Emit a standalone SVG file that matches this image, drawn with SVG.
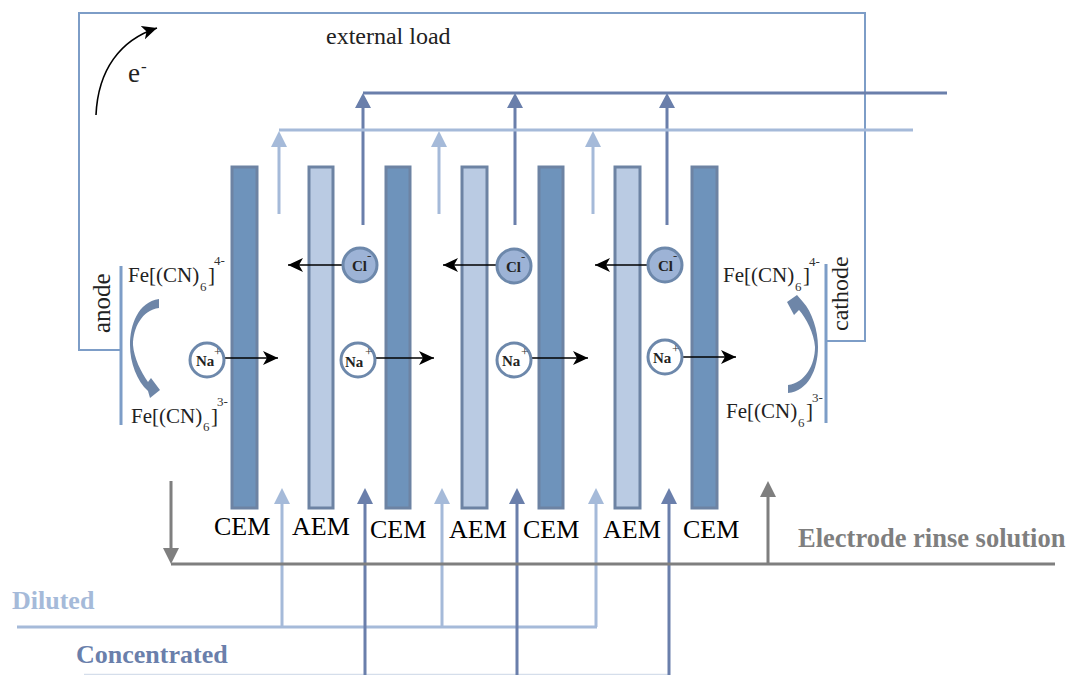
<svg xmlns="http://www.w3.org/2000/svg" width="1069" height="675" viewBox="0 0 1069 675">
<style>
text{font-family:"Liberation Serif","Times New Roman",serif;fill:#000}
.cem{fill:#6e93bb;stroke:#6d83a3;stroke-width:3}
.aem{fill:#bacbe3;stroke:#6d83a3;stroke-width:3}
.l{font-size:26px}
.f{font-size:21px;fill:#222}
.s{font-size:13px;fill:#333}
.ion{font-size:15px;font-weight:bold;fill:#222}
.na{fill:#fff;stroke:#6d88ab;stroke-width:3}
.cl{fill:#9db3d6;stroke:#6d88ab;stroke-width:3}
.wire{fill:none;stroke:#7d9dc7;stroke-width:2}
.dil{fill:none;stroke:#a5bad9;stroke-width:3}
.con{fill:none;stroke:#6a7fab;stroke-width:3}
.gr{fill:none;stroke:#7f7f7f;stroke-width:3}
.blk{fill:none;stroke:#000;stroke-width:1.6}
</style>
<defs>
<marker id="ab" markerUnits="userSpaceOnUse" markerWidth="18" markerHeight="14" refX="15" refY="7" orient="auto"><path d="M0 0L15 7L0 14L4 7Z" fill="#000"/></marker>
</defs>
<g id="connectors">
<path class="wire" d="M121 350H79V13H865V341H826"/>
<path class="blk" d="M96 115C98 70 120 40 157 28" marker-end="url(#ab)"/>
<path class="con" d="M363 93H947"/>
<path class="con" d="M363 225V100M515 225V100M667 225V100"/>
<path d="M363 93l-8 15h16zM515 93l-8 15h16zM667 93l-8 15h16z" fill="#6a7fab"/>
<path class="dil" d="M279 130H913"/>
<path class="dil" d="M279 214V135M439 214V135M593 214V135"/>
<path d="M279 131l-8 16h16zM439 131l-8 16h16zM593 131l-8 16h16z" fill="#a5bad9"/>
<path class="dil" d="M17 627H597"/>
<path class="dil" d="M282 627V500M442 627V500M596 627V500"/>
<path d="M282 488l-8 16h16zM442 488l-8 16h16zM596 488l-8 16h16z" fill="#a5bad9"/>
<path d="M84 674.500H669" fill="none" stroke="#d5deeb" stroke-width="1.500"/>
<path class="con" d="M365 675V500M517 675V500M669 675V500"/>
<path d="M365 488l-8 16h16zM517 488l-8 16h16zM669 488l-8 16h16z" fill="#6a7fab"/>
<path class="gr" d="M171 564H1055M171 481V552M768 564V495"/>
<path d="M171 564l-8 -16h16zM768 481l-8 16h16z" fill="#7f7f7f"/>
<path d="M121 266V425M826 264V423" fill="none" stroke="#7d9dc7" stroke-width="3"/>
</g>
<g id="cem1"><rect class="cem" x="232" y="167" width="25" height="341"/><text class="l" x="214" y="535">CEM</text></g>
<g id="aem1"><rect class="aem" x="309" y="167" width="24" height="341"/><text class="l" x="292" y="535">AEM</text></g>
<g id="cem2"><rect class="cem" x="386" y="167" width="24" height="341"/><text class="l" x="370" y="538">CEM</text></g>
<g id="aem2"><rect class="aem" x="462" y="167" width="25" height="341"/><text class="l" x="449" y="538">AEM</text></g>
<g id="cem3"><rect class="cem" x="539" y="167" width="24" height="341"/><text class="l" x="523" y="538">CEM</text></g>
<g id="aem3"><rect class="aem" x="615" y="167" width="25" height="341"/><text class="l" x="603" y="538">AEM</text></g>
<g id="cem4"><rect class="cem" x="692" y="167" width="25" height="341"/><text class="l" x="683" y="538">CEM</text></g>
<g id="ion-arrows">
<path class="blk" d="M224 358H278" marker-end="url(#ab)"/>
<path class="blk" d="M376 358H434" marker-end="url(#ab)"/>
<path class="blk" d="M532 358H588" marker-end="url(#ab)"/>
<path class="blk" d="M683 357H736" marker-end="url(#ab)"/>
<path class="blk" d="M342 265H288" marker-end="url(#ab)"/>
<path class="blk" d="M497 265H443" marker-end="url(#ab)"/>
<path class="blk" d="M648 265H595" marker-end="url(#ab)"/>
</g>
<g id="na1"><circle class="na" cx="207" cy="360" r="17"/><text class="ion" x="196" y="366">Na</text><text class="s" x="214" y="356">+</text></g>
<g id="na2"><circle class="na" cx="358" cy="360" r="17"/><text class="ion" x="345" y="367">Na</text><text class="s" x="365" y="356">+</text></g>
<g id="na3"><circle class="na" cx="514" cy="360" r="17"/><text class="ion" x="502" y="366">Na</text><text class="s" x="521" y="356">+</text></g>
<g id="na4"><circle class="na" cx="665" cy="357" r="17"/><text class="ion" x="653" y="363">Na</text><text class="s" x="672" y="353">+</text></g>
<g id="cl1"><circle class="cl" cx="360" cy="265" r="17"/><text class="ion" x="352" y="271">Cl</text><text class="s" x="367" y="260">-</text></g>
<g id="cl2"><circle class="cl" cx="514" cy="266" r="17"/><text class="ion" x="506" y="272">Cl</text><text class="s" x="521" y="261">-</text></g>
<g id="cl3"><circle class="cl" cx="665" cy="265" r="17"/><text class="ion" x="658" y="271">Cl</text><text class="s" x="673" y="260">-</text></g>
<g id="anode">
<path d="M159 299C138 302 130 325 130 345C130 363 137 381 148 391L150 398L160 390L151 378L148 382C141 372 134 358 133 345C133 328 142 310 159 308Z" fill="#6e86a8"/>
<text class="f" style="font-size:25px" transform="translate(110 333) rotate(-90)">anode</text>
<text class="f" x="128" y="282">Fe[(CN)</text><text class="s" x="200" y="291">6</text><text class="f" x="208" y="282">]</text><text class="s" x="214" y="265">4-</text>
<text class="f" x="131" y="423">Fe[(CN)</text><text class="s" x="203" y="431">6</text><text class="f" x="211" y="423">]</text><text class="s" x="217" y="406">3-</text>
</g>
<g id="cathode">
<path d="M788 393C808 391 818 370 818 347C818 330 812 312 803 302L797 295L787 302L794 315L799 310C806 318 814 333 815 347C815 365 805 383 788 385Z" fill="#6e86a8"/>
<text class="f" style="font-size:24px" transform="translate(848 331) rotate(-90)">cathode</text>
<text class="f" x="723" y="282">Fe[(CN)</text><text class="s" x="795" y="291">6</text><text class="f" x="803" y="282">]</text><text class="s" x="809" y="266">4-</text>
<text class="f" x="726" y="418">Fe[(CN)</text><text class="s" x="798" y="427">6</text><text class="f" x="806" y="418">]</text><text class="s" x="812" y="402">3-</text>
</g>
<g id="labels">
<text x="326" y="44" font-size="24" style="fill:#222">external load</text>
<text x="128" y="82" font-size="27" style="fill:#222">e</text><text x="141" y="72" font-size="17" style="fill:#222">-</text>
<text x="798" y="547" font-size="26.500" font-weight="bold" style="fill:#7f7f7f">Electrode rinse solution</text>
<text x="12" y="609" font-size="26" font-weight="bold" style="fill:#a5bad9">Diluted</text>
<text x="76" y="663" font-size="26" font-weight="bold" style="fill:#6a7fab">Concentrated</text>
</g>
</svg>
